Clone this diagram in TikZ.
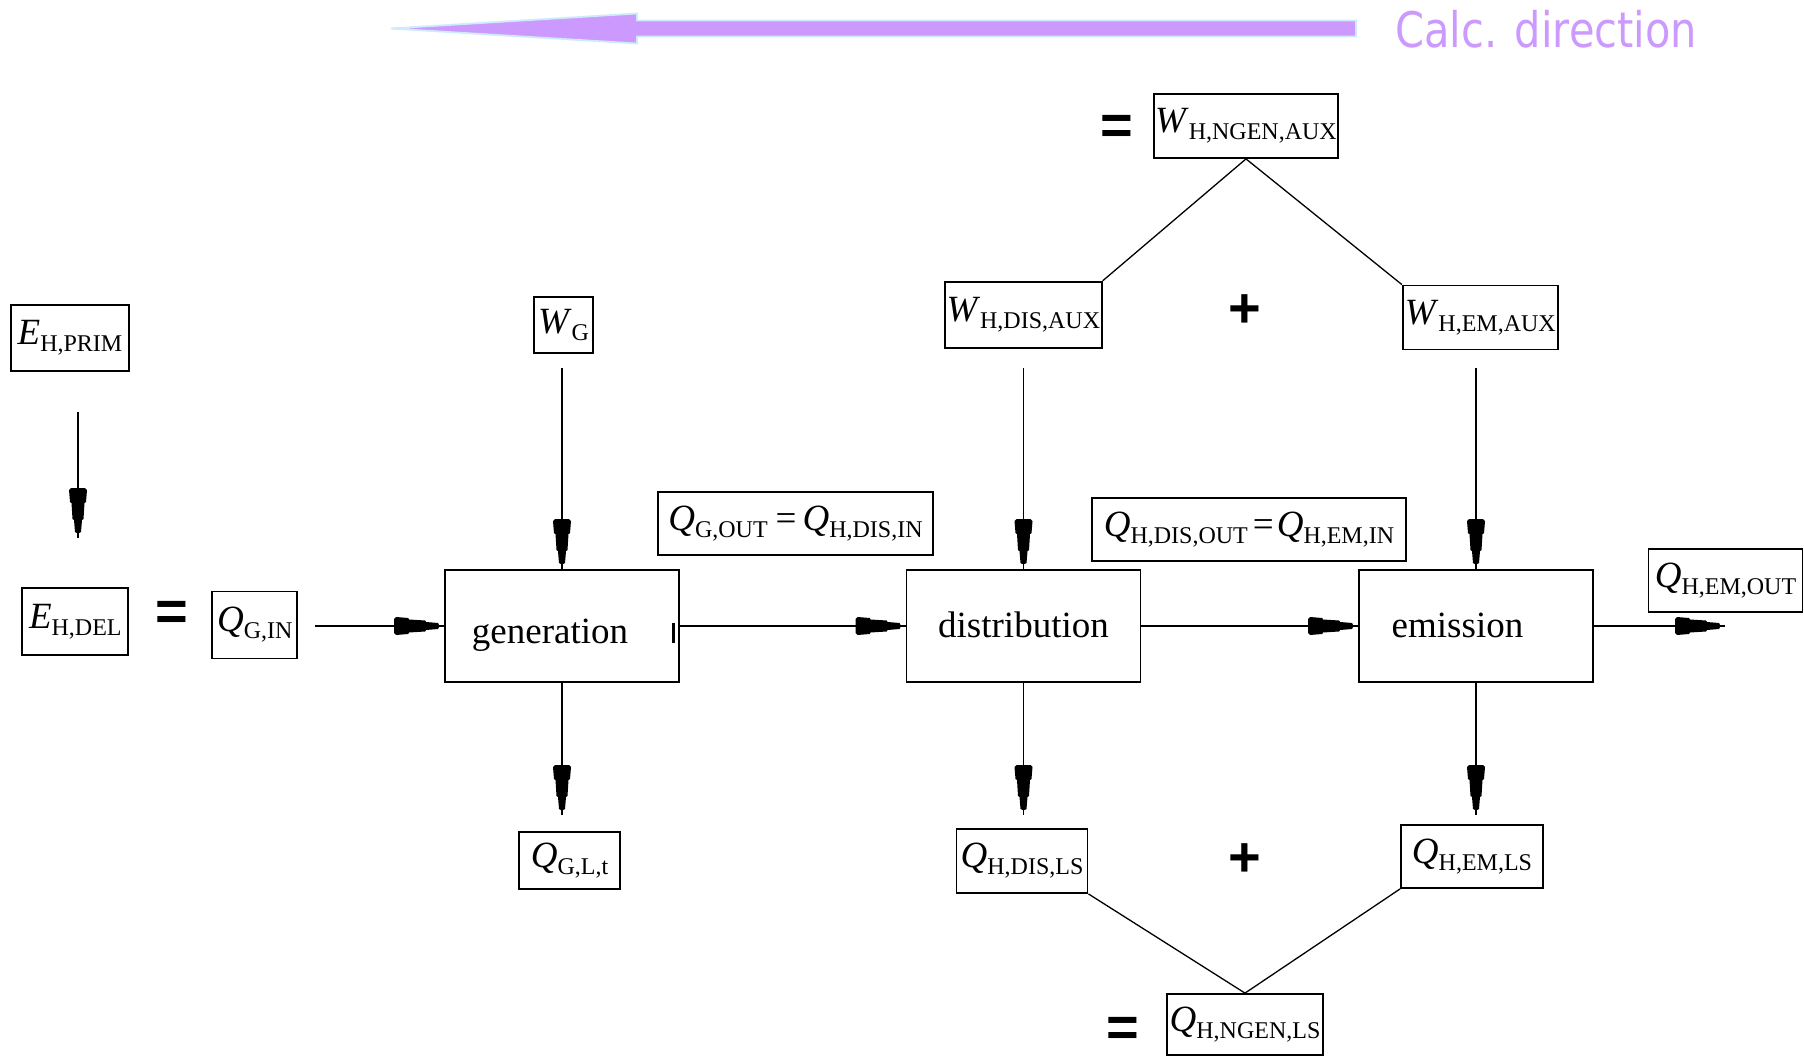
\documentclass[tikz,border=0pt]{standalone}
\usepackage{fontspec}
\usepackage{graphicx}
\setmainfont{Liberation Serif}
\newfontfamily\calcfont{DejaVu Sans}
\newfontfamily\signfont{Liberation Sans}
\usetikzlibrary{calc}

\definecolor{calcpurple}{HTML}{CC99FF}
\definecolor{calcedge}{HTML}{CDEBFA}

% stepped, tapering arrow head
\pgfdeclarearrow{
  name = StepHead,
  setup code = {
    \pgfarrowssettipend{0pt}
    \pgfarrowssetlineend{0pt}
    \pgfarrowssetbackend{-50pt}
    \pgfarrowssetvisualbackend{-50pt}
    \pgfarrowshullpoint{0pt}{0pt}
    \pgfarrowshullpoint{-50pt}{9pt}
    \pgfarrowshullpoint{-50pt}{-9pt}
  },
  drawing code = {
    \pgfpathmoveto{\pgfqpoint{-50pt}{7pt}}
    \pgfpathlineto{\pgfqpoint{-48pt}{9pt}}
    \pgfpathlineto{\pgfqpoint{-36pt}{8pt}}
    \pgfpathlineto{\pgfqpoint{-35pt}{6.5pt}}
    \pgfpathlineto{\pgfqpoint{-19pt}{5.5pt}}
    \pgfpathlineto{\pgfqpoint{-18pt}{4pt}}
    \pgfpathlineto{\pgfqpoint{-6pt}{3pt}}
    \pgfpathlineto{\pgfqpoint{-5pt}{1pt}}
    \pgfpathlineto{\pgfqpoint{-5pt}{-1pt}}
    \pgfpathlineto{\pgfqpoint{-6pt}{-3pt}}
    \pgfpathlineto{\pgfqpoint{-18pt}{-4pt}}
    \pgfpathlineto{\pgfqpoint{-19pt}{-5.5pt}}
    \pgfpathlineto{\pgfqpoint{-35pt}{-6.5pt}}
    \pgfpathlineto{\pgfqpoint{-36pt}{-8pt}}
    \pgfpathlineto{\pgfqpoint{-48pt}{-9pt}}
    \pgfpathlineto{\pgfqpoint{-50pt}{-7pt}}
    \pgfpathclose
    \pgfusepathqfill
  }
}

% quantity symbol with subscript
\newcommand\qv[2]{\textit{#1}\raisebox{-7pt}{\fontsize{24}{26}\selectfont #2}}

\tikzset{
  var/.style={draw, line width=1.8pt, inner sep=0pt, font=\fontsize{37}{40}\selectfont},
  proc/.style={draw, line width=1.8pt, inner sep=0pt, minimum width=234pt,
    minimum height=112pt, text height=30pt, text depth=8pt,
    font=\fontsize{37}{40}\selectfont},
  sign/.style={inner sep=0pt, anchor=base, font=\signfont\bfseries\fontsize{56}{58}\selectfont},
  arr/.style={line width=1.8pt, -StepHead},
  link/.style={line width=1.3pt},
}

\begin{document}
\begin{tikzpicture}[x=1pt, y=-1pt]
\useasboundingbox[fill=white] (0,0) rectangle (1804,1056);

% calculation direction arrow
\filldraw[fill=calcpurple, draw=calcedge, line width=1.8pt, line join=miter]
  (1356,20.5) -- (637,20.5) -- (637,13.5) -- (391,28.5) -- (637,43.5)
  -- (637,36.5) -- (1356,36.5) -- cycle;
\node[anchor=base west, inner sep=0pt, text=calcpurple] (calc) at (1395,48)
  {\scalebox{0.848}[1]{\calcfont\fontsize{49}{52}\selectfont Calc. direction}};

% process boxes
\node[proc] (gen)  at (562,626)    {\raisebox{-6pt}{generation}\hspace*{24pt}};
\node[proc] (dist) at (1023.5,626) {distribution};
\node[proc] (emis) at (1476,626)   {emission\hspace*{37pt}};

% quantity boxes
\node[var, minimum width=118pt, minimum height=66pt] (eprim) at (70,338) {\qv{E}{H,PRIM}};
\node[var, minimum width=106pt, minimum height=67pt] (edel) at (75.3,621.3) {\qv{E}{H,DEL}};
\node[var, minimum width=85pt, minimum height=67pt] (qgin) at (254.8,625) {\qv{Q}{G,IN}};
\node[var, minimum width=59pt, minimum height=56pt] (wg) at (563.5,325) {\qv{W}{G}};
\node[var, minimum width=275pt, minimum height=63pt] (qgout) at (795.5,523.5)
  {\qv{Q}{G,OUT}\hspace{8pt}=\hspace{6pt}\qv{Q}{H,DIS,IN}};
\node[var, minimum width=314pt, minimum height=63pt] (qdisout) at (1249,529.5)
  {\qv{Q}{H,DIS,OUT}\hspace{5pt}=\hspace{3pt}\qv{Q}{H,EM,IN}};
\node[var, minimum width=154pt, minimum height=63pt] (qemout) at (1725.5,580.5) {\qv{Q}{H,EM,OUT}};
\node[var, minimum width=184pt, minimum height=64pt] (wngen) at (1246,126) {\qv{W}{H,NGEN,AUX}};
\node[var, minimum width=157pt, minimum height=66pt] (wdis) at (1023.3,314.7) {\qv{W}{H,DIS,AUX}};
\node[var, minimum width=155pt, minimum height=64pt] (wem) at (1480.3,317.5) {\qv{W}{H,EM,AUX}};
\node[var, minimum width=101pt, minimum height=57pt] (qglt) at (569.5,860.5) {\qv{Q}{G,L,t}};
\node[var, minimum width=131pt, minimum height=64pt] (qdisls) at (1022,861) {\qv{Q}{H,DIS,LS}};
\node[var, minimum width=142pt, minimum height=63pt] (qemls) at (1472,856.5) {\qv{Q}{H,EM,LS}};
\node[var, minimum width=156pt, minimum height=61pt] (qngenls) at (1245,1024.5) {\qv{Q}{H,NGEN,LS}};

% operators
\node[sign] (eqdel)  at (171.7,630) {=};
\node[sign] (eqaux)  at (1117,145)  {=};
\node[sign] (plaux)  at (1245,328)  {+};
\node[sign] (plls)   at (1245,876)  {+};
\node[sign] (eqls)   at (1123,1046) {=};

% free connector ends
\coordinate (eptop) at (78,412);
\coordinate (epbot) at (78,538);
\coordinate (qinr)  at (315,626);
\coordinate (wgb)   at (562,368);
\coordinate (wdisb) at (1023.5,368);
\coordinate (wemb)  at (1476,368);
\coordinate (glt)   at (562,815);
\coordinate (dls)   at (1023.5,815);
\coordinate (els)   at (1476,815);
\coordinate (outend) at (1725,626);

% energy flow
\draw[arr] (eptop) -- (epbot);
\draw[arr] (qinr) -- (gen.west);
\draw[arr] (gen.east) -- (dist.west);
\draw[arr] (dist.east) -- (emis.west);
\draw[arr] (emis.east) -- (outend);

% auxiliary energy inputs
\draw[arr] (wgb) -- (wgb |- gen.north);
\draw[arr] (wdisb) -- (wdisb |- dist.north);
\draw[arr] (wemb) -- (wemb |- emis.north);

% losses
\draw[arr] (gen.south) -- (glt);
\draw[arr] (dist.south) -- (dls);
\draw[arr] (emis.south) -- (els);

% small mark at the generation outlet
\draw[line width=3pt] ($(gen.east)+(-6,-3)$) -- ++(0,20);

% sums
\draw[link] (wngen.south) -- (wdis.north east);
\draw[link] (wngen.south) -- (wem.north west);
\draw[link] (qdisls.south east) -- (qngenls.north);
\draw[link] (qemls.south west) -- (qngenls.north);
\end{tikzpicture}
\end{document}
